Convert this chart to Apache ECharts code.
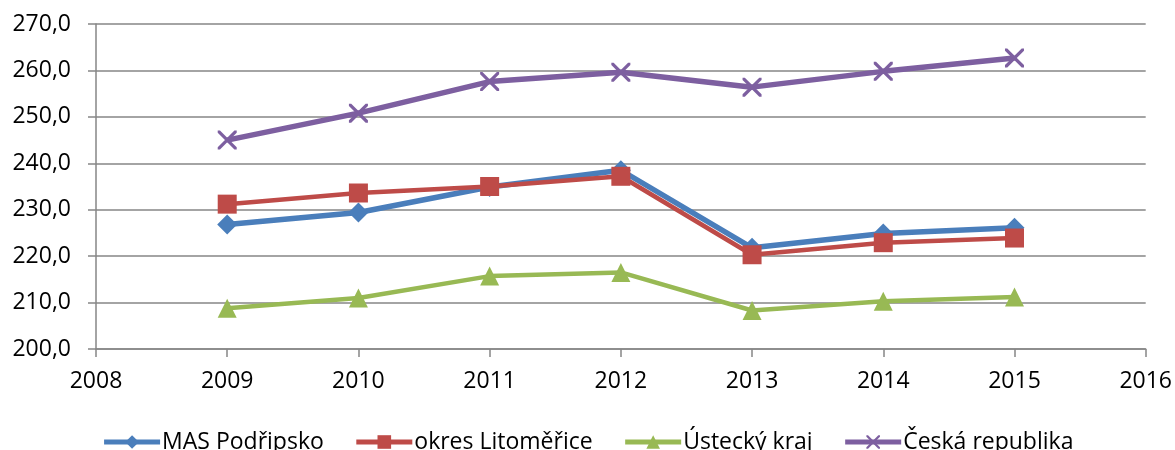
<!DOCTYPE html>
<html>
<head>
<meta charset="utf-8">
<script src="https://cdn.jsdelivr.net/npm/echarts@6/dist/echarts.min.js"></script>
<style>
  html, body { margin: 0; padding: 0; background: #fff; }
  #chart { width: 1175px; height: 450px; }
</style>
</head>
<body>
<div id="chart"></div>
<script>
const years = [2009, 2010, 2011, 2012, 2013, 2014, 2015];
const seriesNames = ['MAS Podřipsko', 'okres Litoměřice', 'Ústecký kraj', 'Česká republika'];
const masPodripsko = [226.8, 229.4, 234.9, 238.5, 221.8, 224.9, 226.1];
const okresLitomerice = [231.2, 233.6, 235.0, 237.2, 220.3, 222.9, 223.9];
const usteckyKraj = [208.8, 211.0, 215.7, 216.5, 208.3, 210.3, 211.2];
const ceskaRepublika = [245.0, 250.8, 257.6, 259.6, 256.4, 259.8, 262.7];

const colors = ['#4a7ebb', '#be4b48', '#98b954', '#7d5fa0'];
const FONT = '"Open Sans", Lato, sans-serif';

const crossPath = 'path://M0,0L1.2,0L10,8.8L10,10L8.8,10L0,1.2ZM8.8,0L10,0L10,1.2L1.2,10L0,10L0,8.8Z';

function pairs(values) {
    return years.map(function (y, i) { return [y, values[i]]; });
}

const seriesDefs = [
    { data: masPodripsko, symbol: 'diamond', size: 20, width: 5.5 },
    { data: okresLitomerice, symbol: 'rect', size: 19, width: 4.5 },
    { data: usteckyKraj, symbol: 'triangle', size: 19, width: 4.5 },
    { data: ceskaRepublika, symbol: crossPath, size: 19, width: 5.5 }
];

const chart = echarts.init(document.getElementById('chart'));

chart.setOption({
    animation: false,
    grid: { left: 96, right: 29, top: 24, bottom: 101, containLabel: false },
    legend: {
        top: 425,
        left: 'center',
        itemWidth: 56,
        itemHeight: 17,
        itemGap: 30,
        lineStyle: { width: 5 },
        textStyle: { fontFamily: FONT, fontSize: 23, lineHeight: 24, color: '#000', padding: [0, 0, 0, -3] },
        data: seriesNames
    },
    xAxis: {
        type: 'value',
        min: 2008,
        max: 2016,
        interval: 1,
        axisLine: { lineStyle: { color: '#868686', width: 1.5 } },
        axisTick: { show: true, length: 8, lineStyle: { color: '#868686', width: 1.5 } },
        axisLabel: {
            margin: 21,
            fontFamily: FONT, fontSize: 23, color: '#000',
            formatter: function (v) { return String(v); }
        },
        splitLine: { show: false }
    },
    yAxis: {
        type: 'value',
        min: 200,
        max: 270,
        interval: 10,
        axisLine: { show: true, lineStyle: { color: '#868686', width: 1.5 } },
        axisTick: { show: true, length: 8, lineStyle: { color: '#868686', width: 1.5 } },
        axisLabel: {
            margin: 25,
            fontFamily: FONT, fontSize: 23, color: '#000',
            formatter: function (v) { return v.toFixed(1).replace('.', ','); }
        },
        splitLine: { lineStyle: { color: '#868686', width: 1.5 } }
    },
    series: seriesDefs.map(function (d, i) {
        return {
            name: seriesNames[i],
            type: 'line',
            data: pairs(d.data),
            symbol: d.symbol,
            symbolSize: d.size,
            showSymbol: true,
            lineStyle: { color: colors[i], width: d.width },
            itemStyle: { color: colors[i], borderWidth: 0 },
            z: 2 + i
        };
    })
});
</script>
</body>
</html>
